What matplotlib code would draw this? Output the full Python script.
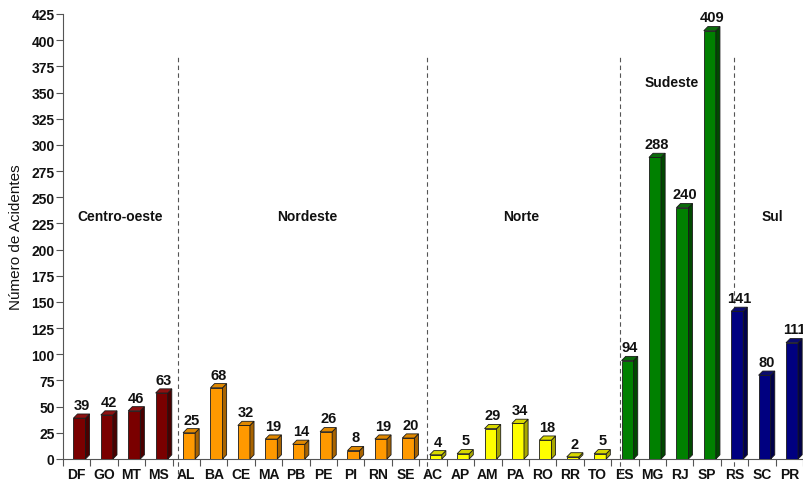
import matplotlib
matplotlib.use("Agg")
import matplotlib.pyplot as plt
from matplotlib.patches import Polygon

plt.rcParams['font.family'] = ['Liberation Sans', 'DejaVu Sans']

# data
states = ['DF', 'GO', 'MT', 'MS',
          'AL', 'BA', 'CE', 'MA', 'PB', 'PE', 'PI', 'RN', 'SE',
          'AC', 'AP', 'AM', 'PA', 'RO', 'RR', 'TO',
          'ES', 'MG', 'RJ', 'SP',
          'RS', 'SC', 'PR']
accidents = [39, 42, 46, 63,
             25, 68, 32, 19, 14, 26, 8, 19, 20,
             4, 5, 29, 34, 18, 2, 5,
             94, 288, 240, 409,
             141, 80, 111]
regions = ['Centro-oeste', 'Nordeste', 'Norte', 'Sudeste', 'Sul']
region_sizes = [4, 9, 7, 4, 3]
region_label_x = [1.6, 8.4, 16.2, 21.7, 25.4]
region_label_y = [232, 232, 232, 360, 232]
divider_x = [3.68, 12.77, 19.82, 23.98]

# front, side/top colours per region
front_colors = ['#7a0000', '#ff9900', '#ffff00', '#008000', '#000080']
side_colors = ['#4a0000', '#a86300', '#a8a800', '#004800', '#00004a']
top_colors = ['#8e1010', '#e08800', '#d8d800', '#0a6a0a', '#0a0a70']

fig = plt.figure(figsize=(8.04, 4.85), dpi=100)
ax = fig.add_axes([63 / 804, 25 / 485, 740 / 804, 445 / 485])

bar_w = 0.44
off = 0.1
dx, dy = 0.15, 4.0

idx = 0
for r, n in enumerate(region_sizes):
    for k in range(n):
        x = idx + off
        v = accidents[idx]
        ax.bar(x, v, width=bar_w, color=front_colors[r], edgecolor='#1a1a1a',
               linewidth=0.6, zorder=3)
        x0, x1 = x - bar_w / 2, x + bar_w / 2
        side = Polygon([(x1, 0), (x1 + dx, dy), (x1 + dx, v + dy), (x1, v)],
                       closed=True, facecolor=side_colors[r],
                       edgecolor='#1a1a1a', linewidth=0.6, zorder=3)
        top = Polygon([(x0, v), (x0 + dx, v + dy), (x1 + dx, v + dy), (x1, v)],
                      closed=True, facecolor=top_colors[r],
                      edgecolor='#1a1a1a', linewidth=0.6, zorder=3)
        ax.add_patch(side)
        ax.add_patch(top)
        ax.text(x + dx / 2, v + dy + 2, str(v), ha='center', va='bottom',
                fontsize=10.5, fontweight='bold', color='#111111', zorder=4)
        idx += 1

for xd in divider_x:
    ax.plot([xd, xd], [-14, 385], linestyle=(0, (4, 3)), color='#555555',
            linewidth=0.8, clip_on=False, zorder=2)

for name, lx, ly in zip(regions, region_label_x, region_label_y):
    ax.text(lx, ly, name, ha='center', va='center', fontsize=10,
            fontweight='bold', color='#111111')

ax.set_xlim(-0.5, 26.5)
ax.set_ylim(0, 425)
ax.set_yticks(range(0, 426, 25))
ax.set_xticks(range(len(states)))
ax.set_xticklabels(states)
ax.set_xticks([i + 0.5 for i in range(-1, len(states))], minor=True)
ax.tick_params(axis='x', which='major', length=0, pad=6, labelsize=10,
               labelcolor='#111111')
ax.tick_params(axis='x', which='minor', length=5, width=0.8, direction='out',
               color='#555555')
for lab in ax.get_xticklabels():
    lab.set_fontweight('bold')
ax.tick_params(axis='y', length=5, width=0.8, color='#555555', labelsize=10,
               labelcolor='#111111', pad=1)
for lab in ax.get_yticklabels():
    lab.set_fontweight('bold')

ax.spines['top'].set_visible(False)
ax.spines['right'].set_visible(False)
ax.spines['left'].set_color('#555555')
ax.spines['bottom'].set_color('#555555')
ax.set_ylabel('Número de Acidentes', fontsize=11, color='#111111', labelpad=6)

fig.savefig('out.png', dpi=100)
